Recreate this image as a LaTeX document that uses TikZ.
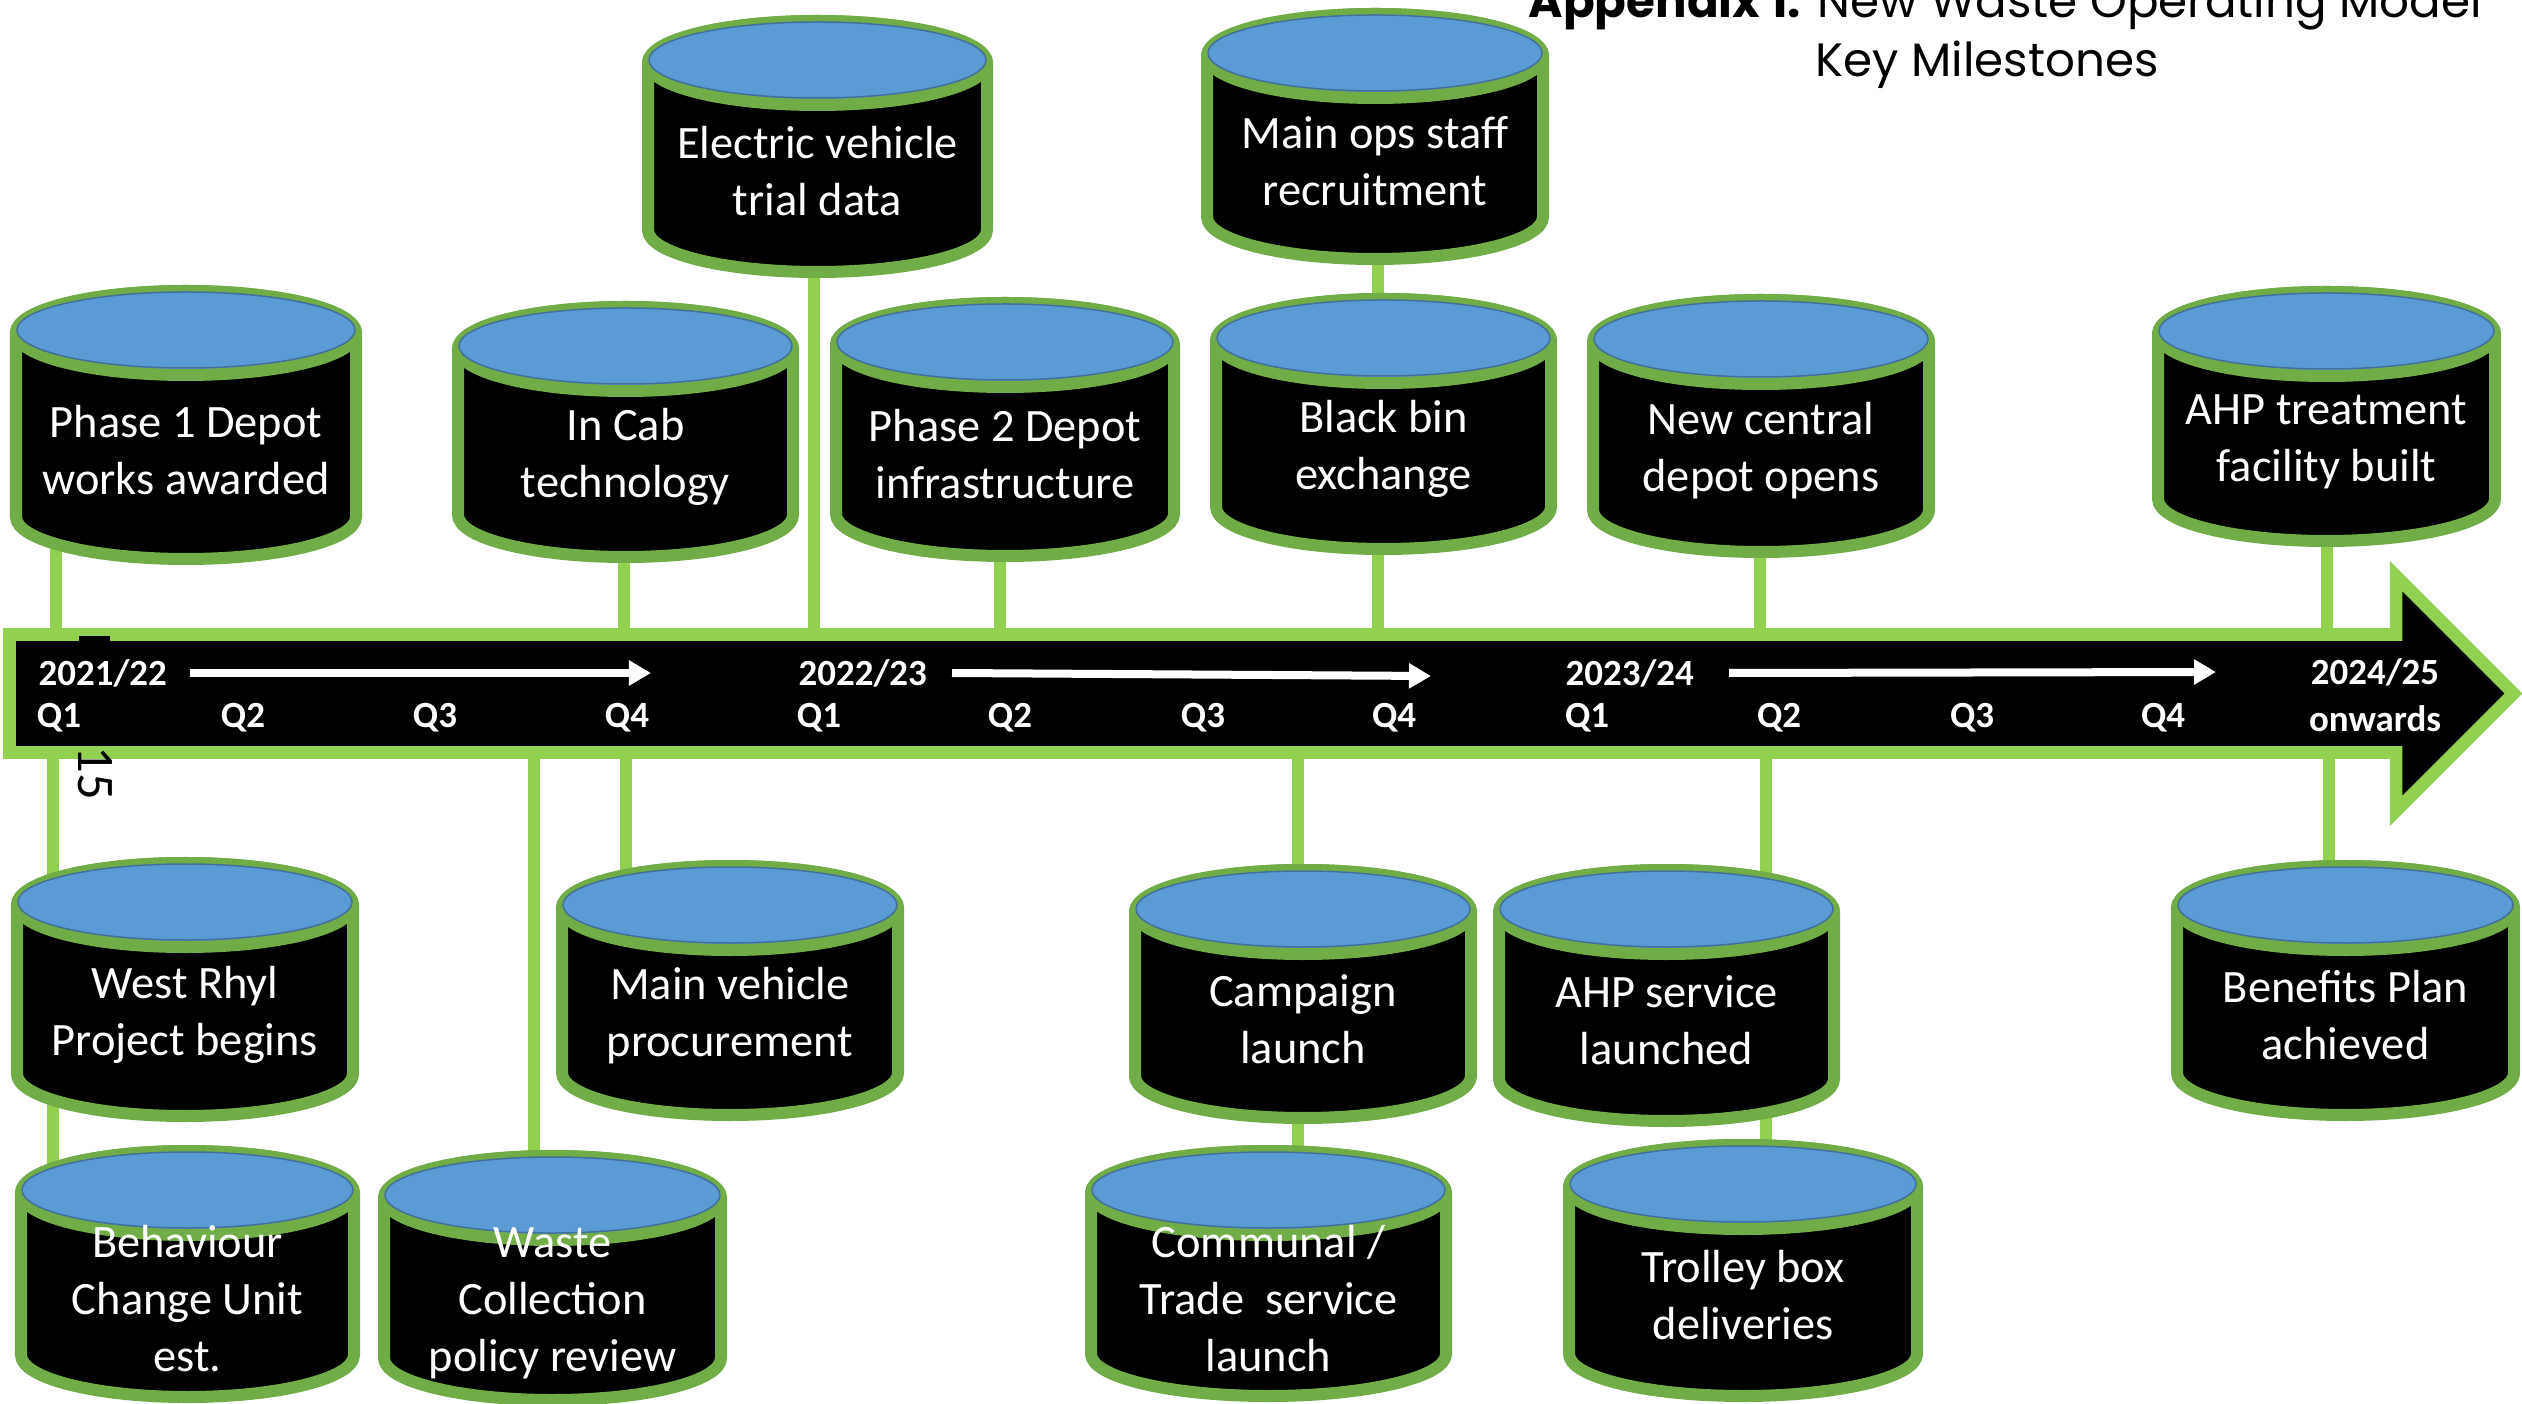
\documentclass[tikz,border=0pt]{standalone}
\usepackage{fontspec}
\setmainfont{Carlito}
\newfontfamily\calfont{Carlito}
\newfontfamily\titlefont{Poppins}
\usetikzlibrary{arrows.meta}
\pgfdeclarelayer{bg}
\pgfdeclarelayer{paper}
\pgfsetlayers{paper,bg,main}
\definecolor{lidblue}{HTML}{5B9BD5}
\definecolor{lidedge}{HTML}{41719C}
\definecolor{cylgreen}{HTML}{70AD47}
\definecolor{linegreen}{HTML}{92D050}
\tikzset{
  cylbody/.style={fill=black, draw=cylgreen, line width=1.2mm, line join=round},
  cyllid/.style={fill=lidblue, draw=cylgreen, line width=1.2mm},
  cyltop/.style={fill=lidblue, draw=lidedge, line width=0.15mm},
  cyltext/.style={text=white, font=\calfont\fontsize{13.2}{16.2}\selectfont, align=center, inner sep=0pt},
  conn/.style={draw=linegreen, line width=1.15mm},
  barshape/.style={fill=black, draw=linegreen, line width=1.25mm, line join=miter, miter limit=10},
  barlabel/.style={text=white, font=\calfont\bfseries\fontsize{10.5}{12}\selectfont, inner sep=0pt},
  wharrow/.style={draw=white, line width=0.8mm, -{Triangle[length=2.2mm,width=2.4mm]}},
  titletext/.style={font=\titlefont\fontsize{13.3}{15}\selectfont, inner sep=0pt, text=black}
}
% #1 name, #2 left, #3 right, #4 top, #5 bottom (outer, px), #6 text
\newcommand\cylbox[6]{%
  \pgfmathsetmacro\cylcx{(#2+#3)/2}%
  \pgfmathsetmacro\cylrx{(#3-#2)/2-6}%
  \pgfmathsetmacro\cylyc{#4+6+42}%
  \pgfmathsetmacro\cylyb{#5-6-42}%
  \pgfmathsetmacro\cylty{(\cylyc+#5-6)/2+4}%
  \filldraw[cylbody] (#2+6,\cylyc) -- (#2+6,\cylyb)
     arc[start angle=180, end angle=0, x radius=\cylrx, y radius=42]
     -- (#3-6,\cylyc)
     arc[start angle=0, end angle=-180, x radius=\cylrx, y radius=42] -- cycle;
  \filldraw[cyllid] (\cylcx,\cylyc) ellipse[x radius=\cylrx, y radius=42];
  \filldraw[cyltop] (\cylcx,\cylyc-3) ellipse[x radius=\cylrx-1, y radius=38];
  \node[cyltext] (#1) at (\cylcx,\cylty) {#6};
}
\begin{document}
\begin{tikzpicture}[x=0.01cm, y=-0.01cm]
\begin{pgfonlayer}{paper}
\fill[white] (0,0) rectangle (2522,1404);
\end{pgfonlayer}
\useasboundingbox (0,0) rectangle (2522,1404);

% title
\node[titletext, anchor=base west] (title1) at (1528,18) {\textbf{Appendix 1.} New Waste Operating Model};
\node[titletext, anchor=base west] (title2) at (1815,77) {Key Milestones};

% timeline bar
\draw[barshape] (9.5,634.5) -- (2396,634.5) -- (2396,576) -- (2513.5,693.5)
   -- (2396,811) -- (2396,752.5) -- (9.5,752.5) -- cycle;
\fill[black] (79,636) rectangle (110,642);

% year labels
\node[barlabel, anchor=west] (y1) at (38,673) {2021/22};
\node[barlabel, anchor=west] (y2) at (798,673) {2022/23};
\node[barlabel, anchor=west] (y3) at (1565,673) {2023/24};
\node[barlabel, align=center] (y4) at (2375,695) {2024/25\\[1.5pt]onwards};

% quarters
\foreach \qx/\qn/\qq in {59/a1/Q1, 243/a2/Q2, 435/a3/Q3, 627/a4/Q4,
                          819/b1/Q1, 1010/b2/Q2, 1203/b3/Q3, 1394/b4/Q4,
                          1587/c1/Q1, 1779/c2/Q2, 1972/c3/Q3, 2163/c4/Q4}
  \node[barlabel] (\qn) at (\qx,718) {\qq};

% white arrows
\coordinate (wa1) at (190,673); \coordinate (wa2) at (651,673);
\coordinate (wb1) at (952,673); \coordinate (wb2) at (1431,676);
\coordinate (wc1) at (1729,673); \coordinate (wc2) at (2216,672);
\draw[wharrow] (wa1) -- (wa2);
\draw[wharrow] (wb1) -- (wb2);
\draw[wharrow] (wc1) -- (wc2);

% stray page number
\node[font=\calfont\fontsize{15}{17}\selectfont, rotate=-90, inner sep=0pt] (pgnum) at (95,773) {15};

% cylinders
\cylbox{electric}{642}{993}{15}{278}{Electric vehicle\\trial data}
\cylbox{mainops}{1201}{1549}{8}{265}{Main ops staff\\recruitment}
\cylbox{phaseone}{10}{362}{285}{565}{Phase 1 Depot\\works awarded}
\cylbox{incab}{452}{799}{301}{563}{In Cab\\technology}
\cylbox{phasetwo}{830}{1180}{297}{562}{Phase 2 Depot\\infrastructure}
\cylbox{blackbin}{1210}{1557}{293}{555}{Black bin\\exchange}
\cylbox{newdepot}{1587}{1935}{294}{558}{New central\\depot opens}
\cylbox{ahptreat}{2152}{2501}{286}{547}{AHP treatment\\facility built}
\cylbox{westrhyl}{11}{359}{857}{1122}{West Rhyl\\Project begins}
\cylbox{mainveh}{556}{904}{860}{1121}{Main vehicle\\procurement}
\cylbox{campaign}{1129}{1477}{864}{1124}{Campaign\\launch}
\cylbox{ahpserv}{1493}{1840}{864}{1127}{AHP service\\launched}
\cylbox{benefits}{2171}{2520}{860}{1121}{Benefits Plan\\achieved}
\cylbox{behaviour}{15}{360}{1145}{1403}{Behaviour\\Change Unit\\est.}
\cylbox{wastepol}{378}{727}{1150}{1406}{Waste\\Collection\\policy review}
\cylbox{communal}{1085}{1452}{1145}{1402}{Communal /\\Trade\ \ service\\launch}
\cylbox{trolley}{1563}{1923}{1139}{1402}{Trolley box\\deliveries}

% connectors (behind cylinders and bar)
\begin{pgfonlayer}{bg}
  \coordinate (k1) at (56,693.5);
  \coordinate (k2) at (53,693.5);
  \coordinate (k3) at (624,693.5);
  \coordinate (k4) at (626,693.5);
  \coordinate (k5) at (534,693.5);
  \coordinate (k6) at (814,693.5);
  \coordinate (k7) at (1000,693.5);
  \coordinate (k8) at (1378,693.5);
  \coordinate (k9) at (1298,693.5);
  \coordinate (k10) at (1760,693.5);
  \coordinate (k11) at (1766,693.5);
  \coordinate (k12) at (2327,693.5);
  \coordinate (k13) at (2329,693.5);
  \draw[conn] (k1) -- (k1 |- phaseone);
  \draw[conn] (k2) -- (k2 |- westrhyl);
  \draw[conn] (k2 |- westrhyl) -- (k2 |- behaviour);
  \draw[conn] (k3) -- (k3 |- incab);
  \draw[conn] (k4) -- (k4 |- mainveh);
  \draw[conn] (k5) -- (k5 |- wastepol);
  \draw[conn] (k6) -- (k6 |- electric);
  \draw[conn] (k7) -- (k7 |- phasetwo);
  \draw[conn] (k8) -- (k8 |- blackbin);
  \draw[conn] (k8 |- blackbin) -- (k8 |- mainops);
  \draw[conn] (k9) -- (k9 |- campaign);
  \draw[conn] (k9 |- campaign) -- (k9 |- communal);
  \draw[conn] (k10) -- (k10 |- newdepot);
  \draw[conn] (k11) -- (k11 |- ahpserv);
  \draw[conn] (k11 |- ahpserv) -- (k11 |- trolley);
  \draw[conn] (k12) -- (k12 |- ahptreat);
  \draw[conn] (k13) -- (k13 |- benefits);
\end{pgfonlayer}
\end{tikzpicture}
\end{document}
